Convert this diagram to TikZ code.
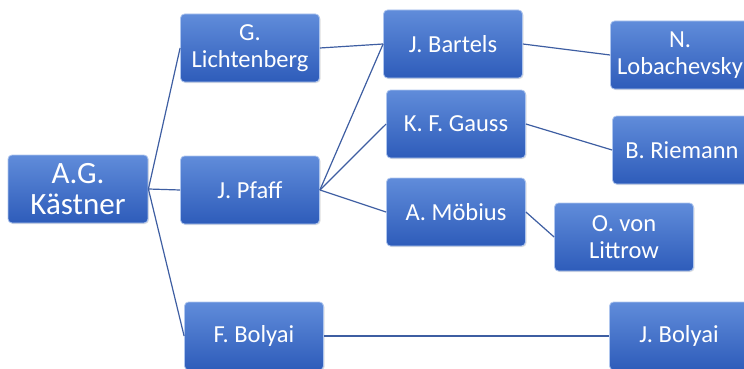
\documentclass[tikz,border=0pt]{standalone}
\usepackage{fontspec}
\setmainfont{Carlito}
\usetikzlibrary{positioning,shadows}

\definecolor{boxtop}{RGB}{96,140,218}
\definecolor{boxbot}{RGB}{46,92,186}
\definecolor{boxedge}{RGB}{175,198,238}
\definecolor{linkblue}{RGB}{62,94,162}

\begin{document}
\begin{tikzpicture}[x=1pt, y=-1pt,
    scholar/.style={draw=boxedge, line width=0.8pt, rounded corners=4pt, top color=boxtop, bottom color=boxbot,
        minimum width=139pt, minimum height=68pt, align=center, text=white, inner sep=2pt,
        font=\fontsize{24.5}{27}\selectfont, drop shadow={opacity=0.25, shadow xshift=1pt, shadow yshift=-1pt}},
    link/.style={draw=linkblue, line width=1.2pt}
]
\useasboundingbox (0,0) rectangle (744,369);

% first generation
\node[scholar, minimum width=140pt, font=\fontsize{31}{31}\selectfont] (kaestner) at (78,189) {A.G.\\Kästner};

% second generation
\node[scholar] (lichtenberg) at (250,48) {G.\\Lichtenberg};
\node[scholar] (pfaff) at (250,190) {J. Pfaff};
\node[scholar] (fbolyai) at (254,336) {F. Bolyai};

% third generation
\node[scholar] (bartels) at (453,44) {J. Bartels};
\node[scholar] (gauss) at (456,124) {K. F. Gauss};
\node[scholar] (moebius) at (456,212) {A. Möbius};

% fourth generation
\node[scholar] (lobachevsky) at (680,55) {N.\\Lobachevsky};
\node[scholar] (riemann) at (682,150) {B. Riemann};
\node[scholar] (littrow) at (624,237) {O. von\\Littrow};
\node[scholar] (jbolyai) at (679,336) {J. Bolyai};

\draw[link] (kaestner.east) -- (lichtenberg.west);
\draw[link] (kaestner.east) -- (pfaff.west);
\draw[link] (kaestner.east) -- (fbolyai.west);
\draw[link] (lichtenberg.east) -- (bartels.west);
\draw[link] (pfaff.east) -- (bartels.west);
\draw[link] (pfaff.east) -- (gauss.west);
\draw[link] (pfaff.east) -- (moebius.west);
\draw[link] (bartels.east) -- (lobachevsky.west);
\draw[link] (gauss.east) -- (riemann.west);
\draw[link] (moebius.east) -- (littrow.west);
\draw[link] (fbolyai.east) -- (jbolyai.west);
\end{tikzpicture}
\end{document}
